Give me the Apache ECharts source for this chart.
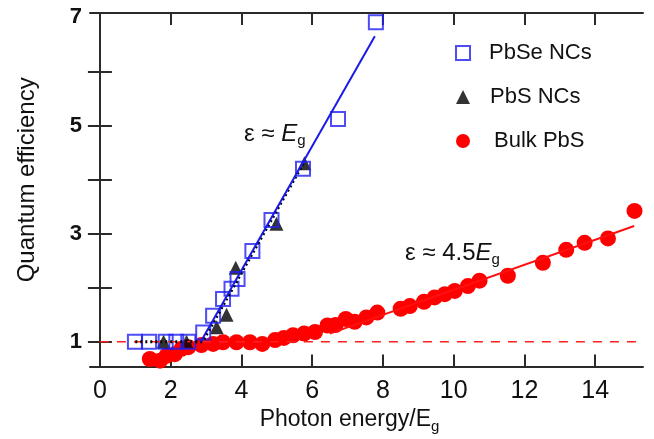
<!DOCTYPE html>
<html>
<head>
<meta charset="utf-8">
<script src="https://cdn.jsdelivr.net/npm/echarts@6/dist/echarts.min.js"></script>
<style>
  html, body { margin: 0; padding: 0; background: #fff; }
  #chart { width: 654px; height: 439px; }
</style>
</head>
<body>
<div id="chart"></div>
<script>
// PbSe NCs (hollow blue squares)
var pbseX = [0.99, 1.39, 1.86, 2.16, 2.5, 2.92, 3.2, 3.48, 3.72, 3.89, 4.31, 4.85, 5.74, 6.73, 7.8];
var pbseY = [1.0, 1.0, 1.0, 1.0, 1.0, 1.17, 1.48, 1.79, 1.98, 2.16, 2.68, 3.25, 4.2, 5.12, 6.91];
// PbS NCs (black triangles)
var pbsX = [1.8, 2.45, 3.3, 3.58, 3.84, 4.99, 5.78];
var pbsY = [1.0, 1.0, 1.27, 1.5, 2.37, 3.18, 4.3];
// Bulk PbS (red dots)
var bulkX = [1.41, 1.7, 1.88, 2.12, 2.31, 2.5, 2.87, 3.2, 3.48, 3.86, 4.24, 4.59, 4.95, 5.2, 5.46, 5.77, 6.08, 6.43, 6.66, 6.95, 7.2, 7.53, 7.84, 8.5, 8.76, 9.16, 9.46, 9.75, 10.03, 10.4, 10.73, 11.53, 12.52, 13.18, 13.7, 14.36, 15.11];
var bulkY = [0.68, 0.65, 0.74, 0.77, 0.87, 0.9, 0.94, 0.96, 0.99, 0.99, 0.99, 0.96, 1.03, 1.07, 1.12, 1.15, 1.18, 1.3, 1.31, 1.42, 1.37, 1.45, 1.54, 1.61, 1.66, 1.74, 1.82, 1.88, 1.94, 2.03, 2.13, 2.22, 2.46, 2.7, 2.83, 2.91, 3.42];
// fit lines
var pbseFitX = [2.85, 7.77];
var pbseFitY = [1.0, 6.65];
var pbsFitX = [1.0, 2.9, 5.75];
var pbsFitY = [1.0, 1.0, 4.3];
var bulkFitX = [6.5, 15.1];
var bulkFitY = [1.15, 3.14];
var refX = [0, 15.35];
var refY = [1, 1];
// ticks
var xTicks = [0, 2, 4, 6, 8, 10, 12, 14];
var yTicks = [1, 2, 3, 4, 5, 6];
var yLabels = [1, 3, 5, 7];

var font = 'Liberation Sans, Arial, Helvetica, sans-serif';
var frame = '#2a2a2a';

function pairs(xs, ys) {
  return xs.map(function (x, i) { return [x, ys[i]]; });
}

var annoRich = {
  a: { fontSize: 24, lineHeight: 28, fontFamily: font },
  e: { fontSize: 24, lineHeight: 28, fontStyle: 'italic', fontFamily: font },
  s: { fontSize: 15, lineHeight: 15, verticalAlign: 'bottom', fontFamily: font }
};

var myChart = echarts.init(document.getElementById('chart'));

var option = {
  animation: false,
  backgroundColor: '#fff',
  grid: { left: 90, right: 11, top: 13, bottom: 71 },
  xAxis: [
    {
      type: 'value', min: -0.28, max: 15.35,
      axisLine: { lineStyle: { color: frame, width: 2 } },
      axisTick: { inside: true, length: 12, customValues: xTicks, lineStyle: { color: frame, width: 2 } },
      axisLabel: { customValues: xTicks, fontSize: 25, fontFamily: font, color: '#111', margin: 12 },
      splitLine: { show: false },
      name: '{a|Photon energy/E}{s|g}',
      nameLocation: 'middle',
      nameGap: 37,
      nameTextStyle: {
        fontFamily: font, color: '#111',
        padding: [0, 34, 0, 0],
        rich: {
          a: { fontSize: 23, lineHeight: 28, fontFamily: font, color: '#111' },
          s: { fontSize: 15, lineHeight: 15, verticalAlign: 'bottom', fontFamily: font, color: '#111' }
        }
      }
    },
    {
      type: 'value', position: 'top', min: -0.28, max: 15.35,
      axisLine: { show: true, lineStyle: { color: frame, width: 2 } },
      axisTick: { inside: true, length: 12, customValues: xTicks, lineStyle: { color: frame, width: 2 } },
      axisLabel: { show: false },
      splitLine: { show: false }
    }
  ],
  yAxis: [
    {
      type: 'value', min: 0.54, max: 7.08,
      axisLine: { show: true, lineStyle: { color: frame, width: 2 } },
      axisTick: { show: true, inside: true, length: 12, customValues: yTicks, lineStyle: { color: frame, width: 2 } },
      axisLabel: { customValues: yLabels, fontSize: 22, fontWeight: 'bold', fontFamily: font, color: '#111', margin: 8 },
      splitLine: { show: false },
      name: 'Quantum efficiency',
      nameLocation: 'middle',
      nameGap: 51,
      nameTextStyle: { fontSize: 24, fontFamily: font, color: '#111', padding: [0, 0, 0, 20] }
    },
    {
      type: 'value', position: 'right', min: 0.54, max: 7.08,
      axisLine: { show: true, lineStyle: { color: frame, width: 2 } },
      axisTick: { show: true, inside: true, length: 12, customValues: yTicks, lineStyle: { color: frame, width: 2 } },
      axisLabel: { show: false },
      splitLine: { show: false }
    }
  ],
  legend: {
    orient: 'vertical',
    left: 450, top: 37,
    itemWidth: 14, itemHeight: 14,
    itemGap: 22,
    textStyle: { fontSize: 22, fontFamily: font, color: '#111' },
    data: [
      { name: 'PbSe NCs', textStyle: { padding: [0, 0, 0, 14] } },
      { name: 'PbS NCs', textStyle: { padding: [0, 0, 0, 15] } },
      { name: 'Bulk PbS', textStyle: { padding: [0, 0, 0, 19] } }
    ]
  },
  graphic: [
    {
      type: 'text', x: 244, y: 120,
      style: { text: '{a|ε ≈ }{e|E}{s|g}', fill: '#111', rich: annoRich }
    },
    {
      type: 'text', x: 405, y: 239,
      style: { text: '{a|ε ≈ 4.5}{e|E}{s|g}', fill: '#111', rich: annoRich }
    }
  ],
  series: [
    {
      name: 'ref', type: 'line', data: pairs(refX, refY), showSymbol: false, silent: true,
      lineStyle: { color: '#ff2020', width: 1.6, type: [9, 8] }
    },
    {
      name: 'Bulk PbS', type: 'scatter', data: pairs(bulkX, bulkY),
      symbol: 'circle', symbolSize: 16,
      itemStyle: { color: '#ff0000', opacity: 1 }
    },
    {
      name: 'bulkFit', type: 'line', data: pairs(bulkFitX, bulkFitY), showSymbol: false, silent: true,
      lineStyle: { color: '#ff1010', width: 2 }
    },
    {
      name: 'pbsFit', type: 'line', data: pairs(pbsFitX, pbsFitY), showSymbol: false, silent: true,
      lineStyle: { color: '#000', width: 3, type: [2, 3] }
    },
    {
      name: 'PbS NCs', type: 'scatter', data: pairs(pbsX, pbsY),
      symbol: 'triangle', symbolSize: 14,
      itemStyle: { color: '#000' }
    },
    {
      name: 'PbSe NCs', type: 'scatter', data: pairs(pbseX, pbseY),
      symbol: 'rect', symbolSize: 14,
      itemStyle: { color: 'rgba(255,255,255,0)', borderColor: '#2020f0', borderWidth: 2 }
    },
    {
      name: 'pbseFit', type: 'line', data: pairs(pbseFitX, pbseFitY), showSymbol: false, silent: true,
      lineStyle: { color: '#1a1ae8', width: 2 }
    }
  ]
};

myChart.setOption(option);
</script>
</body>
</html>
